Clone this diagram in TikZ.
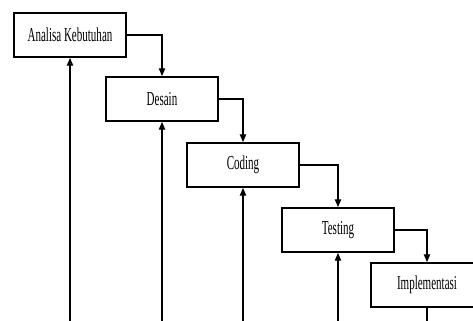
\documentclass[tikz,border=0pt]{standalone}
\usepackage{fontspec}
\newfontfamily\tahapfont[FakeStretch=0.56]{Liberation Serif}
\usetikzlibrary{arrows.meta,positioning}

\begin{document}
\begin{tikzpicture}[
  x=0.025cm, y=-0.025cm,
  tahap/.style={draw, line width=1.3pt, fill=white,
                minimum width=2.78cm, minimum height=1.1cm,
                text centered, font=\tahapfont\fontsize{14}{16}\selectfont},
  arr/.style={-{Triangle[length=5.5pt,width=4.5pt]}, line width=0.9pt},
  lin/.style={line width=0.9pt}
]
  \useasboundingbox (0,0) rectangle (473,321);
  \clip (0,0) rectangle (473,321);

  \node[tahap] (ana) at (70,35)   {Analisa Kebutuhan};
  \node[tahap] (des) at (162,99)  {Desain};
  \node[tahap] (cod) at (243,165) {Coding};
  \node[tahap] (tes) at (338,230) {Testing};
  \node[tahap] (imp) at (427,285) {Implementasi};

  % aliran turun
  \draw[arr] (ana.east) -| (des.north);
  \draw[arr] (des.east) -| (cod.north);
  \draw[arr] (cod.east) -| (tes.north);
  \draw[arr] (tes.east) -| (imp.north);

  % balikan dari bawah
  \coordinate (dasar) at (0,330);
  \draw[arr] (ana.south |- dasar) -- (ana.south);
  \draw[arr] (des.south |- dasar) -- (des.south);
  \draw[arr] (cod.south |- dasar) -- (cod.south);
  \draw[arr] (tes.south |- dasar) -- (tes.south);
  \draw[lin] (imp.south) -- (imp.south |- dasar);
\end{tikzpicture}
\end{document}
